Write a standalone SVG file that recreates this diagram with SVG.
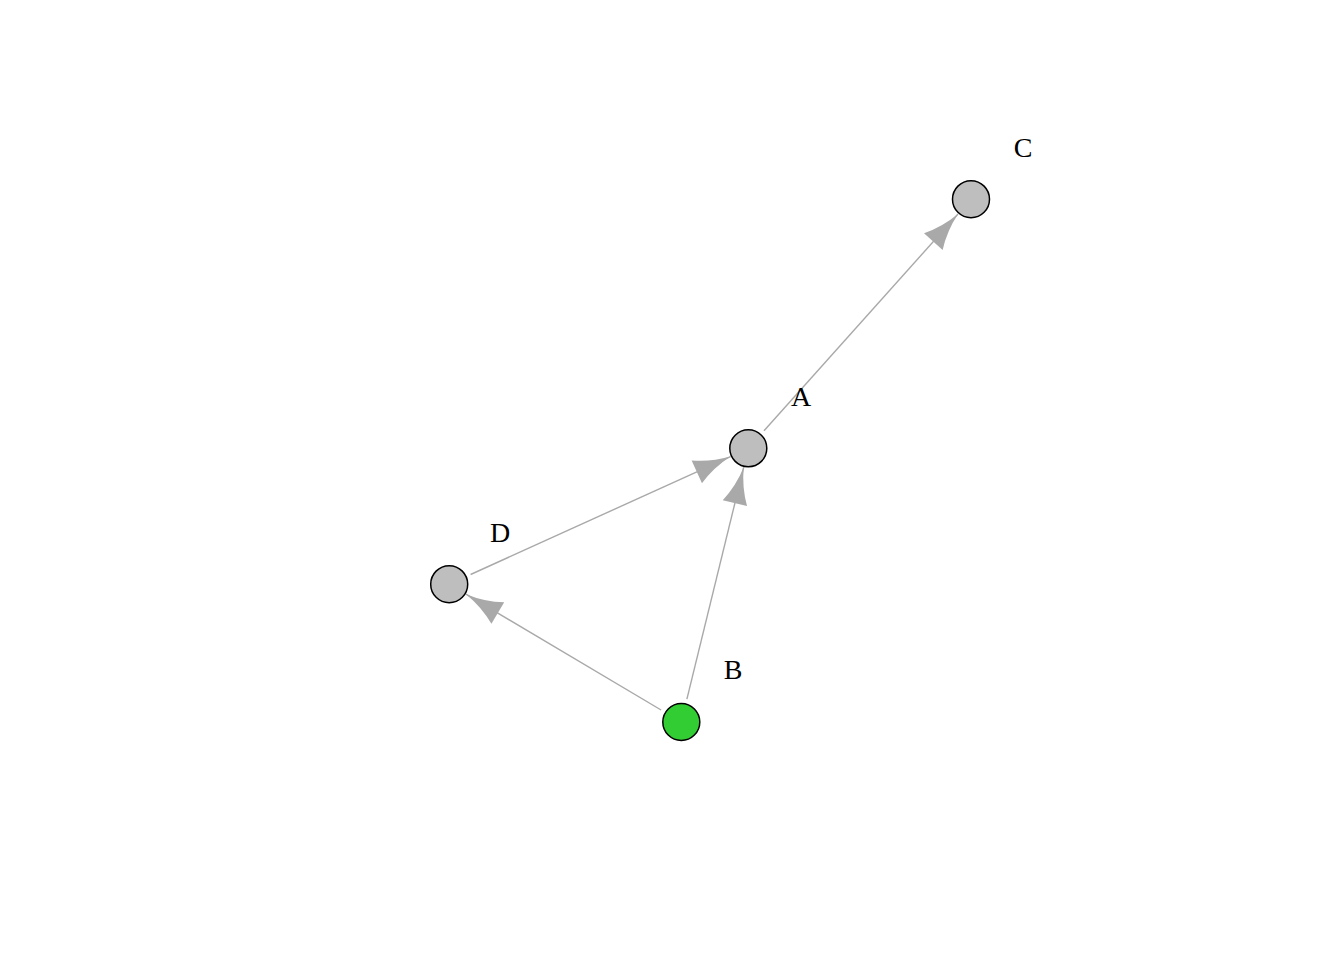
<svg xmlns="http://www.w3.org/2000/svg" width="1344" height="960" viewBox="0 0 1344 960">
<style>
.edge{stroke:#A9A9A9;stroke-width:1.4;fill:none;marker-end:url(#arr)}
.node{stroke:#000;stroke-width:1.5}
.lbl{font-family:"Liberation Serif",serif;font-size:28px;fill:#000;text-anchor:middle}
</style>
<defs>
<marker id="arr" markerUnits="userSpaceOnUse" orient="auto" markerWidth="50" markerHeight="40" refX="40" refY="15" viewBox="0 0 50 30" overflow="visible">
<path d="M40,15 Q20,12 3,2.5 L3,27.5 Q20,18 40,15 Z" fill="#A9A9A9"/>
</marker>
</defs>
<rect width="1344" height="960" fill="#fff"/>
<g id="edges">
<line class="edge" x1="764" y1="430.8" x2="958" y2="214"/>
<line class="edge" x1="470.6" y1="574.5" x2="730.5" y2="456.6"/>
<line class="edge" x1="686.9" y1="699.2" x2="743.7" y2="467.2"/>
<line class="edge" x1="661.1" y1="710" x2="466" y2="594.2"/>
</g>
<g id="node-A"><circle class="node" cx="748.3" cy="448.3" r="18.5" fill="#BEBEBE"/><text class="lbl" x="801" y="406">A</text></g>
<g id="node-C"><circle class="node" cx="971" cy="199.2" r="18.5" fill="#BEBEBE"/><text class="lbl" x="1023" y="157">C</text></g>
<g id="node-D"><circle class="node" cx="449.2" cy="584.2" r="18.5" fill="#BEBEBE"/><text class="lbl" x="500" y="542">D</text></g>
<g id="node-B"><circle class="node" cx="681.3" cy="722" r="18.5" fill="#32CD32"/><text class="lbl" x="733" y="679">B</text></g>
</svg>
